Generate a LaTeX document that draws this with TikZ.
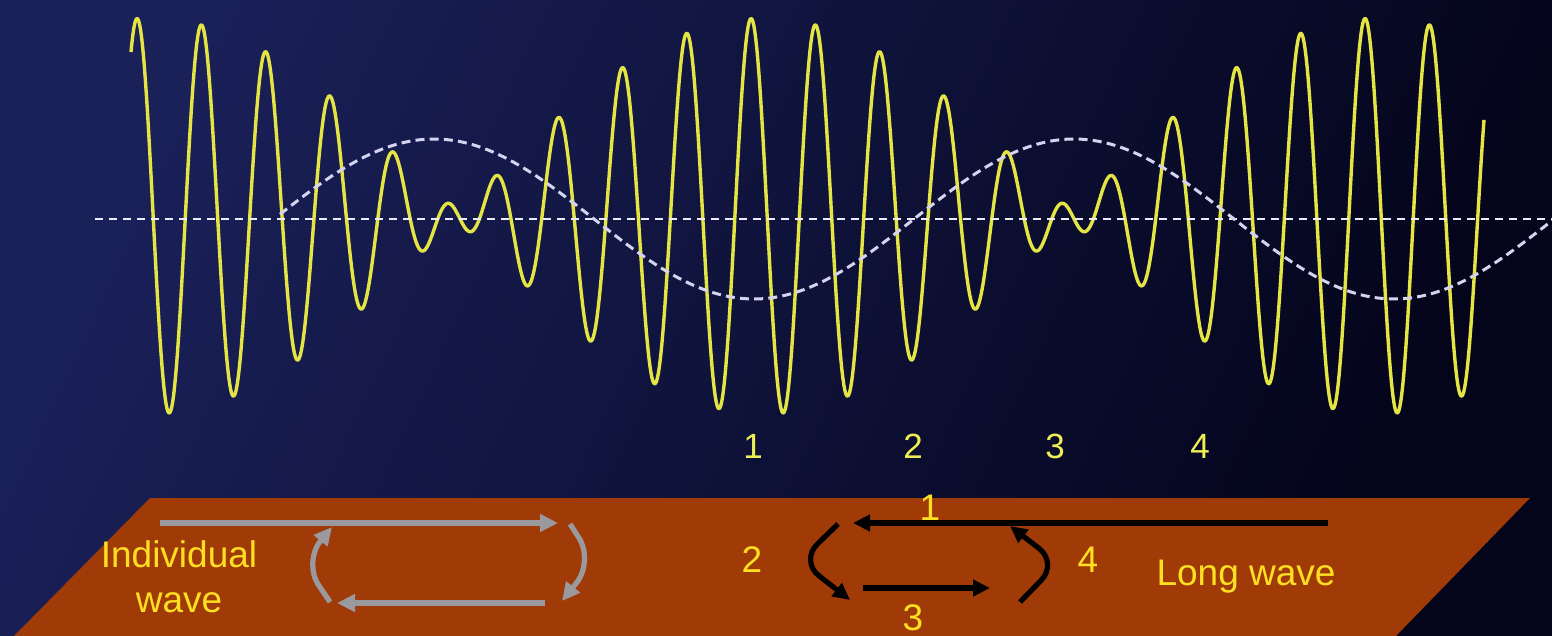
\documentclass[tikz,border=0pt]{standalone}
\usepackage{fontspec}
\setmainfont{Liberation Sans}
\usetikzlibrary{arrows.meta}
\begin{document}
\begin{tikzpicture}[x=0.5pt,y=-0.5pt,
    lbl/.style={font=\fontsize{18.5}{22.5}\selectfont,text=labelY,inner sep=0pt},
    peaknum/.style={font=\fontsize{17.5}{21}\selectfont,text=numY,inner sep=0pt},
    orbitgrey/.style={draw=orbG,line width=2.6pt,-{Triangle[length=9pt,width=8.5pt]}},
    orbitblack/.style={draw=black,line width=2.6pt,-{Triangle[length=8.5pt,width=8pt]}}]
    \definecolor{bgA}{HTML}{1A2058}
    \definecolor{bgB}{HTML}{04041A}
    \definecolor{plate}{HTML}{A03B08}
    \definecolor{waveY}{HTML}{E4E444}
    \definecolor{longW}{HTML}{D4D4F0}
    \definecolor{labelY}{HTML}{FFDF22}
    \definecolor{numY}{HTML}{EEEE55}
    \definecolor{orbG}{HTML}{9A9A9E}
    \useasboundingbox (0,0) rectangle (1552,636);
    \shade[top color=bgA,bottom color=bgB,shading angle=65] (0,0) rectangle (1552,636);
    \fill[plate] (150,498) -- (1530,498) -- (1396,636) -- (14,636) -- cycle;
    \draw[waveY,line width=1.7pt,line join=round] plot[domain=131:1484,samples=1400]
      (\x,{216-104*cos((\x-764)/614*3600+72.4)-94*cos((\x-764)/614*3240+72.4)});
    \draw[white!92!blue,line width=1.3pt,dash pattern=on 4pt off 3pt] (95,219) -- (1552,219);
    \draw[longW,line width=1.5pt,dash pattern=on 4.5pt off 2.6pt] plot[domain=280:1552,samples=300]
      (\x,{219-80*cos((\x-434)/640*360)});
    \foreach \n/\x in {1/753, 2/913, 3/1055, 4/1200}
      \node[peaknum] (peak\n) at (\x,446) {\n};
    \coordinate (iwTopA) at (160,523);
    \coordinate (iwTopB) at (558,523);
    \coordinate (iwRA) at (570,524);
    \coordinate (iwRB) at (594,561);
    \coordinate (iwRC) at (562,601);
    \coordinate (iwBotA) at (545,603);
    \coordinate (iwBotB) at (337,603);
    \coordinate (iwLA) at (330,602);
    \coordinate (iwLB) at (303,562);
    \coordinate (iwLC) at (332,527);
    \draw[orbitgrey] (iwTopA) -- (iwTopB);
    \draw[orbitgrey,rounded corners=14pt] (iwRA) -- (iwRB) -- (iwRC);
    \draw[orbitgrey] (iwBotA) -- (iwBotB);
    \draw[orbitgrey,rounded corners=14pt] (iwLA) -- (iwLB) -- (iwLC);
    \coordinate (lwTopA) at (1328,523);
    \coordinate (lwTopB) at (853,523);
    \coordinate (lw2A) at (838,524);
    \coordinate (lw2B) at (800,561);
    \coordinate (lw2C) at (850,600);
    \coordinate (lw3A) at (863,588);
    \coordinate (lw3B) at (990,588);
    \coordinate (lw4A) at (1020,602);
    \coordinate (lw4B) at (1058,563);
    \coordinate (lw4C) at (1010,526);
    \draw[orbitblack] (lwTopA) -- (lwTopB);
    \draw[orbitblack,rounded corners=12pt] (lw2A) -- (lw2B) -- (lw2C);
    \draw[orbitblack] (lw3A) -- (lw3B);
    \draw[orbitblack,rounded corners=12pt] (lw4A) -- (lw4B) -- (lw4C);
    \foreach \n/\x/\y in {1/930/508, 2/752/560, 3/913/618, 4/1088/560}
      \node[lbl] (orb\n) at (\x,\y) {\n};
    \node[lbl,align=center] (indiv) at (179,577) {Individual\\wave};
    \node[lbl,anchor=base] (longw) at (1246,585) {Long wave};
\end{tikzpicture}
\end{document}
